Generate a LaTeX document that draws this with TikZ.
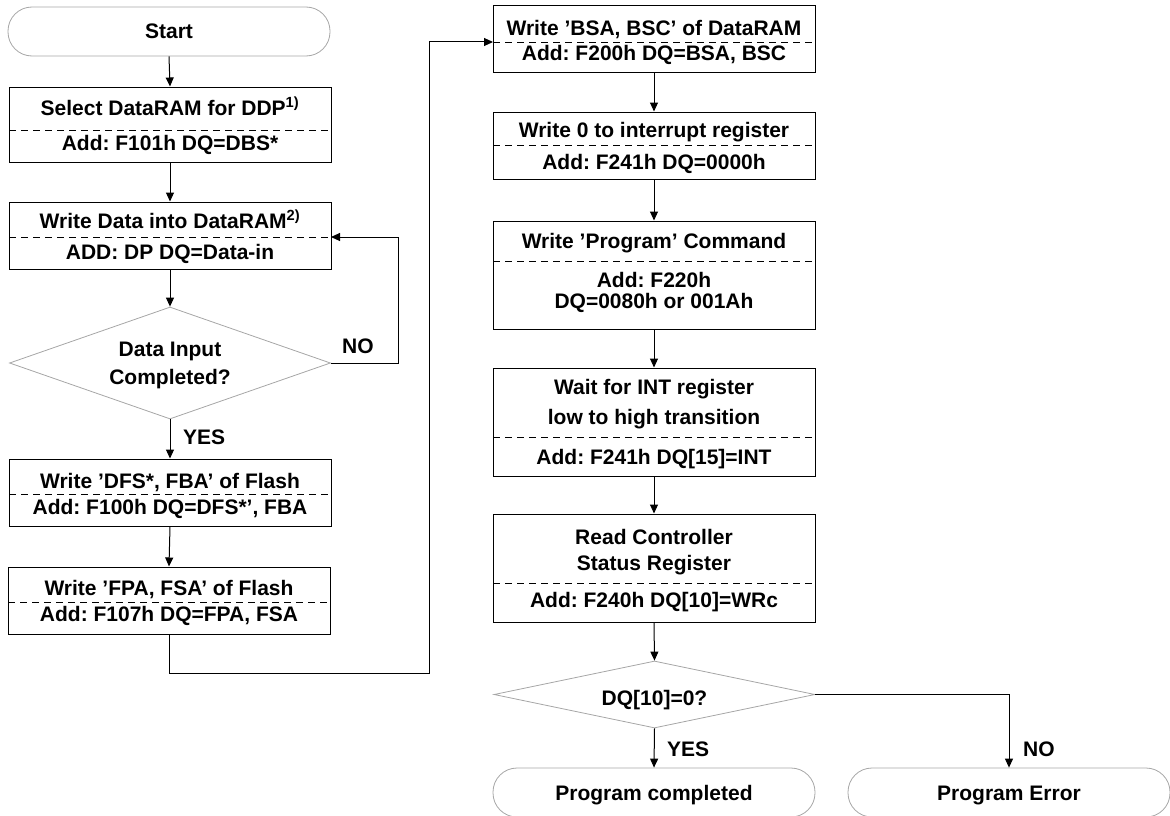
\documentclass[tikz,border=0pt]{standalone}
\usepackage{fontspec}
\setmainfont{Liberation Sans}
\usetikzlibrary{shapes.geometric,arrows.meta}
\frenchspacing
\begin{document}
\begin{tikzpicture}[x=1pt,y=-1pt,
  box/.style={draw=black,line width=1pt,rectangle,minimum width=322pt,inner sep=0pt},
  term/.style={draw=gray!70,line width=0.8pt,rectangle,rounded corners=24pt,minimum width=322pt,minimum height=49pt,inner sep=0pt},
  dec/.style={draw=gray!70,line width=0.8pt,diamond,inner sep=0pt,minimum width=321pt},
  txt/.style={font=\fontsize{21}{24}\selectfont\bfseries\frenchspacing,inner sep=0pt,anchor=base},
  lbl/.style={font=\fontsize{21}{24}\selectfont\bfseries,inner sep=0pt,anchor=base west},
  sepline/.style={line width=0.8pt,dash pattern=on 7pt off 5pt},
  arr/.style={line width=1pt,-{Triangle[length=9pt,width=8pt]}},
]
\useasboundingbox (0,0) rectangle (1170,816);

% ---------- left column ----------
\node[term] (start) at (169,31.5) {};
\node[txt] (tstart) at (169,38.5) {Start};

\node[box,minimum height=75pt] (b1) at (170,124.5) {};
\draw[sepline] (9,130) -- (331,130);
\node[txt] (t1a) at (170,115) {Select DataRAM for DDP\textsuperscript{1)}};
\node[txt] (t1b) at (170,150) {Add: F101h DQ=DBS*};

\node[box,minimum height=67pt] (b2) at (170,235.5) {};
\draw[sepline] (9,237) -- (331,237);
\node[txt] (t2a) at (170,228.5) {Write Data into DataRAM\textsuperscript{2)}};
\node[txt] (t2b) at (170,259) {ADD: DP DQ=Data-in};

\node[dec,minimum height=112pt] (d1) at (170,363) {};
\node[txt] (td1a) at (170,356) {Data Input};
\node[txt] (td1b) at (170,384) {Completed?};

\node[box,minimum height=67pt] (b3) at (170,492.5) {};
\draw[sepline] (9,494) -- (331,494);
\node[txt] (t3a) at (170,488) {Write ’DFS*, FBA’ of Flash};
\node[txt] (t3b) at (170,514) {Add: F100h DQ=DFS*’, FBA};

\node[box,minimum height=67pt] (b4) at (169,600.5) {};
\draw[sepline] (8,602) -- (330,602);
\node[txt] (t4a) at (169,595.5) {Write ’FPA, FSA’ of Flash};
\node[txt] (t4b) at (169,621.5) {Add: F107h DQ=FPA, FSA};

% ---------- right column ----------
\node[box,minimum height=67pt] (b5) at (654,39.5) {};
\draw[sepline] (493,42) -- (815,42);
\node[txt] (t5a) at (654,36) {Write ’BSA, BSC’ of DataRAM};
\node[txt] (t5b) at (654,61) {Add: F200h DQ=BSA, BSC};

\node[box,minimum height=67pt] (b6) at (654,145.5) {};
\draw[sepline] (493,145) -- (815,145);
\node[txt] (t6a) at (654,137) {Write 0 to interrupt register};
\node[txt] (t6b) at (654,169) {Add: F241h DQ=0000h};

\node[box,minimum height=108pt] (b7) at (654,275) {};
\draw[sepline] (493,261) -- (815,261);
\node[txt] (t7a) at (654,248) {Write ’Program’ Command};
\node[txt] (t7b) at (654,287) {Add: F220h};
\node[txt] (t7c) at (654,308) {DQ=0080h or 001Ah};

\node[box,minimum height=108pt] (b8) at (654,422) {};
\draw[sepline] (493,437) -- (815,437);
\node[txt] (t8a) at (654,394) {Wait for INT register};
\node[txt] (t8b) at (654,424) {low to high transition};
\node[txt] (t8c) at (654,464) {Add: F241h DQ[15]=INT};

\node[box,minimum height=108pt] (b9) at (654,568) {};
\draw[sepline] (493,583) -- (815,583);
\node[txt] (t9a) at (654,544) {Read Controller};
\node[txt] (t9b) at (654,570) {Status Register};
\node[txt] (t9c) at (654,607) {Add: F240h DQ[10]=WRc};

\node[dec,minimum height=67pt] (d2) at (654.5,694.5) {};
\node[txt] (td2) at (654.5,705) {DQ[10]=0?};

\node[term] (pc) at (654,792.5) {};
\node[txt] (tpc) at (654,800) {Program completed};
\node[term] (pe) at (1009,792.5) {};
\node[txt] (tpe) at (1009,800) {Program Error};

% ---------- labels ----------
\node[lbl] (no1) at (342,353) {NO};
\node[lbl] (yes1) at (183,444) {YES};
\node[lbl] (yes2) at (667,756) {YES};
\node[lbl] (no2) at (1023,756) {NO};

% ---------- connectors ----------
\coordinate (b2in) at (331,237);
\coordinate (loopc) at (398,237);
\coordinate (turn1) at (169,673);
\coordinate (turn2) at (429,42);
\coordinate (b5in) at (493,42);

\draw[arr] (start.south) -- (b1.north);
\draw[arr] (b1.south) -- (b2.north);
\draw[arr] (b2.south) -- (d1.north);
\draw[arr] (d1.east) -| (loopc) -- (b2in);
\draw[arr] (d1.south) -- (b3.north);
\draw[arr] (b3.south) -- (b4.north);
\draw[arr] (b4.south) -- (turn1) -| (turn2) -- (b5in);
\draw[arr] (b5.south) -- (b6.north);
\draw[arr] (b6.south) -- (b7.north);
\draw[arr] (b7.south) -- (b8.north);
\draw[arr] (b8.south) -- (b9.north);
\draw[arr] (b9.south) -- (d2.north);
\draw[arr] (d2.south) -- (pc.north);
\draw[arr] (d2.east) -| (pe.north);
\end{tikzpicture}
\end{document}
